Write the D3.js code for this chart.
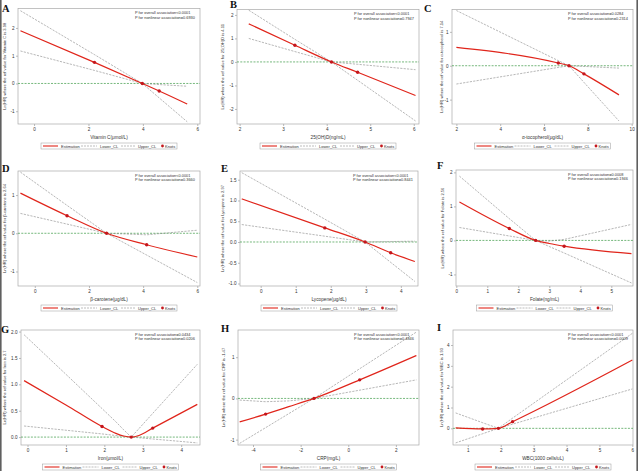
<!DOCTYPE html>
<html><head><meta charset="utf-8">
<script src="https://cdn.jsdelivr.net/npm/d3@7"></script>
<style>body{margin:0;background:#fff}svg{display:block}</style>
</head><body>
<svg id="chart" width="638" height="471"></svg>
<script>
// ---------- text ----------
const panelLetters = ["A","B","C","D","E","F","G","H","I"];
const xTitles = ["Vitamin C(μmol/L)","25(OH)D(ng/mL)","α-tocopherol(μg/dL)","β-carotene(μg/dL)","Lycopene(μg/dL)","Folate(ng/mL)","Iron(μmol/L)","CRP(mg/L)","WBC(1000 cells/uL)"];
const yTitles = [
  "Ln(HR) where the ref value for Vitamin C is 3.98",
  "Ln(HR) where the ref value for 25(OH)D is 4.11",
  "Ln(HR) where the ref value for α-tocopherol is 7.14",
  "Ln(HR) where the ref value for β-carotene is 2.64",
  "Ln(HR) where the ref value for Lycopene is 2.97",
  "Ln(HR) where the ref value for Folate is 2.56",
  "Ln(HR) where the ref value for Iron is 2.7",
  "Ln(HR) where the ref value for CRP is -1.47",
  "Ln(HR) where the ref value for WBC is 1.93"
];
const pOverall   = ["<0.0001","<0.0001","=0.0284","<0.0001","<0.0001","=0.0008","=0.0434","<0.0001","<0.0001"];
const pNonlinear = ["=0.6930","=0.7947","=0.2314","=0.3660","=0.8441","=0.1946","=0.0206","=0.4846","=0.0009"];
const legendLabels = ["Estimation","Lower_CL","Upper_CL","Knots"];

// ---------- series ----------
const aX = [-0.5, 2.22, 3.98, 4.6, 5.63];
const aEst = [1.9, 0.76, 0, -0.27, -0.74];
const aUpp = [2.62, 1.04, 0, -0.04, -0.1];
const aLow = [1.17, 0.47, 0, -0.52, -1.38];
const aKnotX = [2.22, 3.98, 4.6];
const aKnotY = [0.76, 0, -0.27];

const bX = [2.21, 3.27, 4.11, 4.71, 6.04];
const bEst = [1.62, 0.71, 0, -0.44, -1.43];
const bUpp = [2.2, 0.96, 0, -0.1, -0.33];
const bLow = [1.0, 0.44, 0, -0.78, -2.51];
const bKnotX = [3.27, 4.11, 4.71];
const bKnotY = [0.71, 0, -0.44];

const cX = [2, 6.65, 7.14, 7.82, 9.42];
const cEst = [0.54, 0.08, 0, -0.24, -0.86];
const cUpp = [1.63, 0.15, 0, -0.02, -0.07];
const cLow = [-0.54, -0.05, 0, -0.49, -1.63];
const cKnotX = [6.65, 7.14, 7.82];
const cKnotY = [0.08, 0, -0.24];

const dX = [-0.53, 1.19, 2.65, 4.13, 6.0];
const dEst = [1.05, 0.46, 0, -0.3, -0.62];
const dUpp = [1.6, 0.73, 0, -0.04, 0.08];
const dLow = [0.52, 0.24, 0, -0.57, -1.29];
const dKnotX = [1.19, 2.65, 4.13];
const dKnotY = [0.46, 0, -0.3];

const eX = [-0.54, 1.83, 2.98, 3.71, 4.4];
const eEst = [1.04, 0.34, 0, -0.26, -0.47];
const eUpp = [1.67, 0.55, 0, 0.01, 0.02];
const eLow = [0.42, 0.14, 0, -0.49, -0.95];
const eKnotX = [1.83, 2.98, 3.71];
const eKnotY = [0.34, 0, -0.26];

const fX = [0.1, 1.71, 2.56, 3.0, 3.48, 5.65];
const fEst = [1.13, 0.35, 0, -0.09, -0.17, -0.39];
const fUpp = [1.89, 0.64, 0, -0.02, 0.03, 0.47];
const fLow = [0.38, 0.13, 0, -0.18, -0.37, -1.25];
const fKnotX = [1.71, 2.56, 3.48];
const fKnotY = [0.35, 0, -0.17];

const gX = [-0.09, 1.0, 1.94, 2.3, 2.5, 2.7, 2.9, 3.26, 4.42];
const gEst = [1.07, 0.61, 0.2, 0.07, 0.02, 0, 0.03, 0.17, 0.62];
const gUpp = [1.94, 1.19, 0.54, 0.29, 0.14, 0, 0.16, 0.45, 1.38];
const gLow = [0.21, 0.13, 0.06, 0.03, 0.015, 0, -0.013, -0.036, -0.11];
const gKnotX = [1.94, 2.7, 3.26];
const gKnotY = [0.2, 0, 0.17];

const hX = [-4.56, -3.47, -2.5, -1.44, 0.48, 2.86];
const hEst = [-0.57, -0.38, -0.2, 0, 0.45, 1.04];
const hUpp = [-0.04, -0.08, -0.06, 0, 0.72, 1.61];
const hLow = [-1.09, -0.71, -0.37, 0, 0.2, 0.45];
const hKnotX = [-3.47, -1.44, 0.48];
const hKnotY = [-0.38, 0, 0.45];

const iX = [0.63, 1.45, 1.93, 2.36, 6.0];
const iEst = [0.02, -0.03, 0, 0.32, 3.28];
const iUpp = [0.74, 0.27, 0, 0.49, 4.56];
const iLow = [-0.7, -0.26, 0, 0.2, 1.89];
const iKnotX = [1.45, 1.93, 2.36];
const iKnotY = [-0.03, 0, 0.32];

// ---------- ticks ----------
const xTicks = [[0,2,4,6],[2,3,4,5,6],[2,4,6,8,10],[0,2,4,6],[0,1,2,3,4],[0,1,2,3,4,5],[0,1,2,3,4],[-4,-2,0,2],[1,2,3,4,5,6]];
const yTicks = [[-1,0,1,2],[-2,-1,0,1,2],[-1,0,1],[-1,0,1],[-1,-0.5,0,0.5,1,1.5],[-1,0,1,2],[0,0.5,1,1.5,2],[-1,0,1],[0,1,2,3,4]];
const yTickDecimals = [0,0,0,0,1,0,1,0,0];

// ---------- layout (scale extents and frame positions) ----------
const xDomains = [[-0.59,6.1],[1.94,6.12],[1.8,10.06],[-0.62,6.1],[-0.59,4.49],[-0.01,5.7],[-0.17,4.49],[-4.63,2.97],[0.55,6.02]];
const yDomains = [[-1.46,2.7],[-2.64,2.23],[-1.72,1.66],[-1.38,1.63],[-1.06,1.71],[-1.34,2.07],[-0.15,2.03],[-1.13,1.66],[-0.8,4.72]];
// [left, right, top, bottom]
const frames = [
  [18,200,8.5,124],[237,419,9.5,124],[452,633,9.5,124],
  [18,200,171,286],[240,418,171,286],[456,633,170,286],
  [21,200,330,445],[238,419,330,445],[453,633,330,445]
];
const yTitleX = [4.5,222.5,441,4.5,222,442,4.5,223,441];
const letterPos = [[2,11.5],[230,8],[424,11.5],[2,172],[221,172],[437,169],[1,333],[221,332],[437,331]];

const series = [
  [aX,aEst,aUpp,aLow,aKnotX,aKnotY],[bX,bEst,bUpp,bLow,bKnotX,bKnotY],[cX,cEst,cUpp,cLow,cKnotX,cKnotY],
  [dX,dEst,dUpp,dLow,dKnotX,dKnotY],[eX,eEst,eUpp,eLow,eKnotX,eKnotY],[fX,fEst,fUpp,fLow,fKnotX,fKnotY],
  [gX,gEst,gUpp,gLow,gKnotX,gKnotY],[hX,hEst,hUpp,hLow,hKnotX,hKnotY],[iX,iEst,iUpp,iLow,iKnotX,iKnotY]
];

const RED = "#e0251b", KNOT = "#c4161c", GREY = "#7a7a7a", GREEN = "#3b9a45", FRAME = "#a9a9a9";
const FONT = "'Liberation Sans', Arial, sans-serif";

const svg = d3.select("#chart");
svg.append("rect").attr("width",638).attr("height",471).attr("fill","#fff");
svg.append("rect").attr("x",0).attr("y",0).attr("width",1.6).attr("height",471).attr("fill","#5f5f5f");
svg.append("rect").attr("x",636.4).attr("y",0).attr("width",1.6).attr("height",471).attr("fill","#5f5f5f");

const fmtTick = (dec) => (v) => (dec ? d3.format(".1f")(v) : d3.format("d")(v)).replace("\u2212","-");

series.forEach((s, i) => {
  const [L, R, T, B] = frames[i];
  const xs = d3.scaleLinear().domain(xDomains[i]).range([L, R]);
  const ys = d3.scaleLinear().domain(yDomains[i]).range([B, T]);
  const g = svg.append("g");

  // axes
  const xa = g.append("g").attr("transform", `translate(0,${B})`)
    .call(d3.axisBottom(xs).tickValues(xTicks[i]).tickSize(2).tickPadding(1.5).tickFormat(fmtTick(0)));
  const ya = g.append("g").attr("transform", `translate(${L},0)`)
    .call(d3.axisLeft(ys).tickValues(yTicks[i]).tickSize(2).tickPadding(1.5).tickFormat(fmtTick(yTickDecimals[i])));
  [xa, ya].forEach(a => {
    a.select(".domain").remove();
    a.selectAll("line").attr("stroke", "#777").attr("stroke-width", 0.5);
    a.selectAll("text").attr("font-size", 4.6).attr("font-family", FONT).attr("fill", "#333");
  });

  // frame
  g.append("rect").attr("x", L).attr("y", T).attr("width", R - L).attr("height", B - T)
    .attr("fill", "none").attr("stroke", FRAME).attr("stroke-width", 0.7);

  // reference line at 0
  g.append("line").attr("x1", L).attr("x2", R).attr("y1", ys(0)).attr("y2", ys(0))
    .attr("stroke", GREEN).attr("stroke-width", 0.7).attr("stroke-dasharray", "2,1.3");

  const [xv, est, upp, low, kx, ky] = s;
  const lin = d3.line().x(d => xs(d[0])).y(d => ys(d[1]));
  const smooth = d3.line().curve(d3.curveMonotoneX).x(d => xs(d[0])).y(d => ys(d[1]));

  [low, upp].forEach(arr => {
    g.append("path").attr("d", lin(d3.zip(xv, arr))).attr("fill", "none")
      .attr("stroke", GREY).attr("stroke-width", 0.55).attr("stroke-dasharray", "2.2,1.2");
  });
  g.append("path").attr("d", smooth(d3.zip(xv, est))).attr("fill", "none")
    .attr("stroke", RED).attr("stroke-width", 1.2);
  g.selectAll(null).data(d3.zip(kx, ky)).join("circle")
    .attr("cx", d => xs(d[0])).attr("cy", d => ys(d[1])).attr("r", 1.7).attr("fill", KNOT);

  // p-value text
  const pt = g.append("text").attr("font-size", 3.9).attr("font-family", FONT).attr("fill", "#333");
  pt.append("tspan").attr("x", R - 65).attr("y", T + 5.5).text("P for overall association" + pOverall[i]);
  pt.append("tspan").attr("x", R - 65).attr("y", T + 10).text("P for nonlinear association" + pNonlinear[i]);

  // axis titles
  g.append("text").attr("x", (L + R) / 2).attr("y", B + 14.5).attr("text-anchor", "middle")
    .attr("font-size", 4.7).attr("font-family", FONT).attr("fill", "#333").text(xTitles[i]);
  g.append("text").attr("transform", `translate(${yTitleX[i]},${(T + B) / 2}) rotate(-90)`)
    .attr("text-anchor", "middle").attr("dominant-baseline", "central")
    .attr("font-size", 4.1).attr("font-family", FONT).attr("fill", "#333").text(yTitles[i]);

  // panel letter
  g.append("text").attr("x", letterPos[i][0]).attr("y", letterPos[i][1])
    .attr("font-size", 10.5).attr("font-weight", "bold").attr("font-family", "'Liberation Serif', 'Times New Roman', serif")
    .attr("fill", "#111").text(panelLetters[i]);

  // legend
  const lw = 136, lx = (L + R) / 2 - lw / 2, ly = B + 22;
  const lg = g.append("g").attr("transform", `translate(${lx},${ly})`);
  lg.append("rect").attr("x", 0).attr("y", -3).attr("width", lw).attr("height", 6)
    .attr("fill", "#fff").attr("stroke", "#9a9a9a").attr("stroke-width", 0.5);
  lg.append("line").attr("x1", 2).attr("x2", 17).attr("y1", 0).attr("y2", 0).attr("stroke", RED).attr("stroke-width", 1.1);
  lg.append("line").attr("x1", 40).attr("x2", 56).attr("y1", 0).attr("y2", 0).attr("stroke", GREY).attr("stroke-width", 0.5).attr("stroke-dasharray", "2,1");
  lg.append("line").attr("x1", 80).attr("x2", 95).attr("y1", 0).attr("y2", 0).attr("stroke", GREY).attr("stroke-width", 0.5).attr("stroke-dasharray", "2,1");
  lg.append("circle").attr("cx", 121.5).attr("cy", 0).attr("r", 1.4).attr("fill", KNOT);
  const tx = [20, 59, 97, 124];
  legendLabels.forEach((t, k) => {
    lg.append("text").attr("x", tx[k]).attr("y", 0).attr("dominant-baseline", "central")
      .attr("font-size", 4).attr("font-family", FONT).attr("fill", "#333").text(t);
  });
});
</script>
</body></html>
